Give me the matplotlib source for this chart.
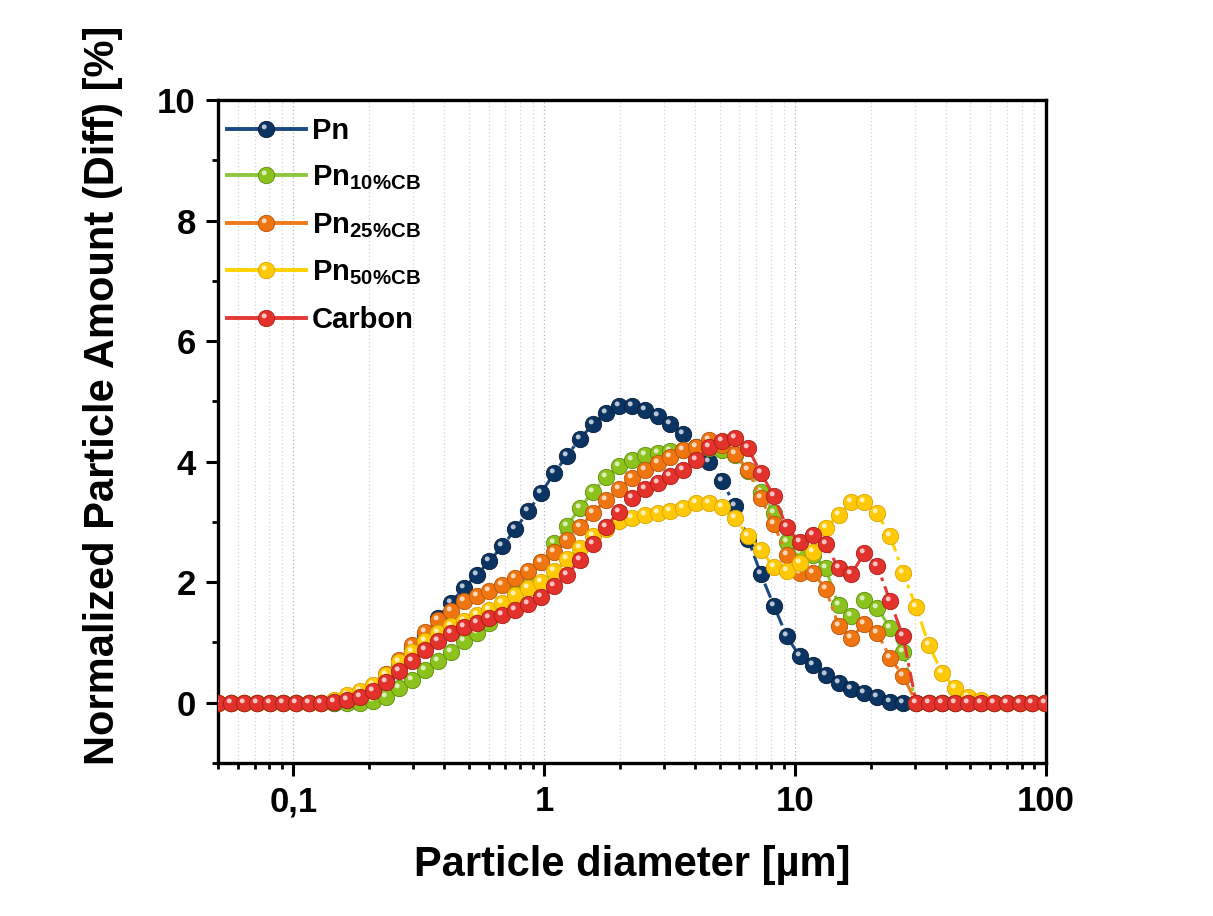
import numpy as np
import matplotlib
matplotlib.use("Agg")
from matplotlib import pyplot as plt
from matplotlib.path import Path
from matplotlib.lines import Line2D
from matplotlib.legend_handler import HandlerTuple
from matplotlib.ticker import FixedLocator, LogLocator, MultipleLocator, NullFormatter

plt.rcParams["font.family"] = ["Liberation Sans", "DejaVu Sans"]
plt.rcParams["font.weight"] = "bold"
plt.rcParams["mathtext.fontset"] = "custom"
plt.rcParams["mathtext.bf"] = "Liberation Sans:bold"
plt.rcParams["mathtext.rm"] = "Liberation Sans:bold"

# size classes [um]
diameter = [0.0500, 0.0563, 0.0634, 0.0714, 0.0804, 0.0905, 0.1019, 0.1148, 0.1292, 0.1455,
            0.1638, 0.1845, 0.2077, 0.2339, 0.2634, 0.2966, 0.3339, 0.3760, 0.4234, 0.4768,
            0.5368, 0.6045, 0.6807, 0.7664, 0.8630, 0.9718, 1.094, 1.232, 1.387, 1.562,
            1.759, 1.981, 2.230, 2.511, 2.828, 3.184, 3.585, 4.037, 4.545, 5.118,
            5.763, 6.489, 7.307, 8.227, 9.264, 10.43, 11.75, 13.23, 14.89, 16.77,
            18.88, 21.26, 23.94, 26.95, 30.35, 34.17, 38.48, 43.33, 48.79, 54.94,
            61.86, 69.65, 78.43, 88.31, 99.44]

pn = [0, 0, 0, 0, 0, 0, 0, 0, 0, 0,
      0.05, 0.12, 0.25, 0.42, 0.63, 0.88, 1.13, 1.40, 1.66, 1.90,
      2.12, 2.35, 2.60, 2.88, 3.18, 3.48, 3.81, 4.10, 4.38, 4.62,
      4.80, 4.92, 4.92, 4.86, 4.75, 4.62, 4.46, 4.25, 4.00, 3.68,
      3.26, 2.72, 2.13, 1.61, 1.10, 0.77, 0.62, 0.46, 0.32, 0.22,
      0.16, 0.09, 0.02, 0, 0, 0, 0, 0, 0, 0,
      0, 0, 0, 0, 0]

pn10 = [0, 0, 0, 0, 0, 0, 0, 0, 0, 0,
        0, 0, 0.03, 0.10, 0.24, 0.38, 0.55, 0.70, 0.85, 1.02,
        1.16, 1.32, 1.57, 1.82, 2.06, 2.34, 2.65, 2.94, 3.23, 3.50,
        3.74, 3.92, 4.03, 4.11, 4.14, 4.17, 4.20, 4.21, 4.22, 4.20,
        4.11, 3.85, 3.50, 3.15, 2.67, 2.48, 2.45, 2.23, 1.62, 1.44,
        1.70, 1.57, 1.24, 0.84, 0, 0, 0, 0, 0, 0,
        0, 0, 0, 0, 0]

pn25 = [0, 0, 0, 0, 0, 0, 0, 0, 0, 0.01,
        0.05, 0.13, 0.28, 0.48, 0.71, 0.96, 1.17, 1.38, 1.52, 1.68,
        1.77, 1.86, 1.96, 2.07, 2.19, 2.33, 2.50, 2.70, 2.92, 3.14,
        3.37, 3.55, 3.73, 3.86, 3.97, 4.08, 4.20, 4.25, 4.36, 4.28,
        4.13, 3.86, 3.39, 2.96, 2.45, 2.16, 2.16, 1.89, 1.28, 1.08,
        1.31, 1.16, 0.74, 0.45, 0, 0, 0, 0, 0, 0,
        0, 0, 0, 0, 0]

pn50 = [0, 0, 0, 0, 0, 0, 0, 0, 0, 0.04,
        0.13, 0.19, 0.30, 0.46, 0.67, 0.85, 1.02, 1.16, 1.28, 1.36,
        1.45, 1.54, 1.65, 1.79, 1.90, 2.01, 2.18, 2.38, 2.57, 2.76,
        2.89, 3.02, 3.07, 3.12, 3.15, 3.18, 3.23, 3.31, 3.31, 3.24,
        3.07, 2.76, 2.53, 2.25, 2.19, 2.32, 2.50, 2.90, 3.12, 3.33,
        3.33, 3.14, 2.77, 2.15, 1.59, 0.95, 0.50, 0.24, 0.09, 0.04,
        0, 0, 0, 0, 0]

carbon = [0, 0, 0, 0, 0, 0, 0, 0, 0, 0.02,
          0.05, 0.10, 0.20, 0.34, 0.53, 0.70, 0.88, 1.03, 1.16, 1.25,
          1.33, 1.40, 1.46, 1.54, 1.64, 1.76, 1.93, 2.12, 2.37, 2.63,
          2.92, 3.17, 3.39, 3.55, 3.64, 3.77, 3.86, 4.02, 4.25, 4.35,
          4.40, 4.22, 3.81, 3.43, 2.91, 2.66, 2.78, 2.63, 2.23, 2.14,
          2.48, 2.27, 1.68, 1.10, 0, 0, 0, 0, 0, 0,
          0, 0, 0, 0, 0]

labels = ["Pn", r"Pn$_\mathbf{10\%CB}$", r"Pn$_\mathbf{25\%CB}$",
          r"Pn$_\mathbf{50\%CB}$", "Carbon"]
series = [pn, pn10, pn25, pn50, carbon]
ball_colors = ["#0c3462", "#8cc21c", "#ef7511", "#ffc905", "#e3312b"]
edge_colors = ["#061c38", "#5e8a0c", "#b8520a", "#d9a400", "#a81d18"]
line_colors = ["#1b4a82", "#8dc63f", "#f07a1a", "#ffd200", "#e53935"]

x_ticks = [0.1, 1, 10, 100]
x_ticklabels = ["0,1", "1", "10", "100"]
y_ticks = [0, 2, 4, 6, 8, 10]

# small glossy spot, placed up-left inside the marker box
spot = Path.make_compound_path(
    Path([(-1, -1), (1, 1)], [Path.MOVETO, Path.MOVETO]),
    Path.circle((-0.28, 0.32), 0.30))

fig = plt.figure(figsize=(12.13, 9.16), dpi=100)
ax = fig.add_axes([0.1797, 0.167, 0.6826, 0.7238])

ms = 11.8
handles = []
for i, (y, lab) in enumerate(zip(series, labels)):
    z = 3 + i
    ax.plot(diameter, y, color=line_colors[i], lw=2.2,
            ls=(0, (5, 1.8, 1.2, 1.8)), marker="o", ms=ms,
            mfc=ball_colors[i], mec=edge_colors[i], mew=0.6, zorder=z)
    ax.plot(diameter, y, ls="none", marker=spot, ms=ms,
            mfc="white", mec="none", alpha=0.72, zorder=z + 0.5)
    h1 = Line2D([], [], color=line_colors[i], lw=2.8, marker="o", ms=ms,
                mfc=ball_colors[i], mec=edge_colors[i], mew=0.6)
    h2 = Line2D([], [], ls="none", marker=spot, ms=ms, mfc="white",
                mec="none", alpha=0.72)
    handles.append((h1, h2))

ax.set_xscale("log")
ax.set_xlim(0.05, 100)
ax.set_ylim(-1, 10)

ax.xaxis.set_major_locator(FixedLocator(x_ticks))
ax.set_xticklabels(x_ticklabels)
ax.xaxis.set_minor_locator(LogLocator(base=10, subs=np.arange(2, 10)))
ax.xaxis.set_minor_formatter(NullFormatter())
ax.set_yticks(y_ticks)
ax.yaxis.set_minor_locator(MultipleLocator(1))

ax.grid(True, which="major", axis="x", color="#b4b4b4", ls=(0, (1, 2)), lw=0.9)
ax.grid(True, which="minor", axis="x", color="#d4d4d4", ls=(0, (1, 2)), lw=0.9)
ax.set_axisbelow(True)

for s in ax.spines.values():
    s.set_linewidth(2.4)
ax.tick_params(which="major", direction="out", length=9, width=2.2,
               labelsize=25, pad=7)
ax.tick_params(which="minor", direction="out", length=4.5, width=2.0)
ax.tick_params(top=False, right=False)

ax.set_xlabel("Particle diameter [µm]", fontsize=30, fontweight="bold", va="center")
ax.xaxis.set_label_coords(0.5, -0.154)
ax.set_ylabel("Normalized Particle Amount (Diff) [%]", fontsize=30,
              fontweight="bold", va="center")
ax.yaxis.set_label_coords(-0.139, 0.555)

ax.legend(handles, labels, handler_map={tuple: HandlerTuple(ndivide=1, pad=0)},
          loc="upper left", bbox_to_anchor=(0.0109, 0.9744), frameon=False,
          fontsize=21, handlelength=2.7, handletextpad=0.22, labelspacing=0.64,
          borderaxespad=0.0, borderpad=0.0)

fig.savefig("out.png", dpi=100, facecolor="white")
